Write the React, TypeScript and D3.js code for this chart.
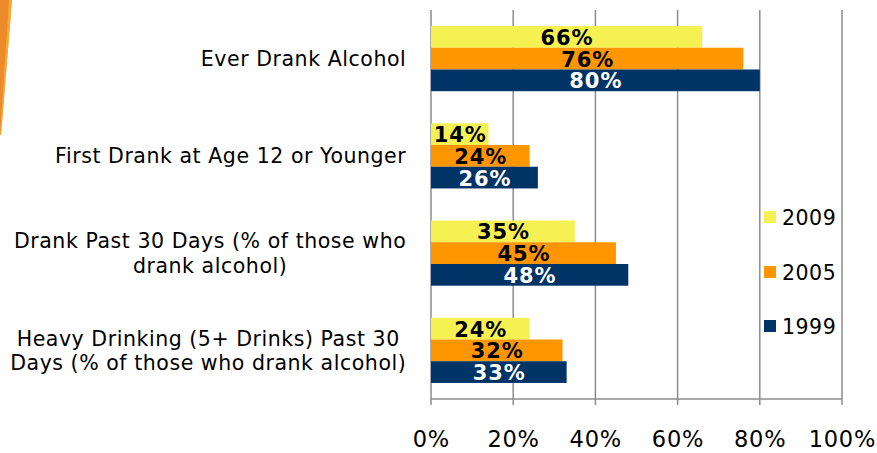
import React, { useEffect, useRef } from "react";
import * as d3 from "d3";

const categories = [
  "Ever Drank Alcohol",
  "First Drank at Age 12 or Younger",
  "Drank Past 30 Days (% of those who\ndrank alcohol)",
  "Heavy Drinking (5+ Drinks) Past 30\nDays (% of those who drank alcohol)",
];
const seriesNames = ["2009", "2005", "1999"];
const values2009 = [66, 14, 35, 24];
const values2005 = [76, 24, 45, 32];
const values1999 = [80, 26, 48, 33];
const xTicks = [0, 20, 40, 60, 80, 100];

const W = 877;
const H = 453;
const COLORS: Record<string, string> = { "2009": "#F6F152", "2005": "#FF9600", "1999": "#003366" };
const LABEL_COLORS: Record<string, string> = { "2009": "#000", "2005": "#000", "1999": "#fff" };
const FONT = "'DejaVu Sans', Verdana, sans-serif";

export default function App() {
  const ref = useRef<SVGSVGElement>(null);

  useEffect(() => {
    document.body.style.margin = "0";
    const svg = d3.select(ref.current);
    svg.selectAll("*").remove();

    const seriesValues: Record<string, number[]> = {
      "2009": values2009,
      "2005": values2005,
      "1999": values1999,
    };

    const plotLeft = 431, plotRight = 842, plotTop = 10, plotBottom = 399;
    const x = d3.scaleLinear().domain([0, 100]).range([plotLeft, plotRight]);
    const y0 = d3.scaleBand<number>()
      .domain(d3.range(categories.length))
      .range([plotTop, plotBottom])
      .paddingInner(0.33)
      .paddingOuter(0.165);
    const y1 = d3.scaleBand<string>().domain(seriesNames).range([0, y0.bandwidth()]).padding(0);

    // decorative orange wedge
    svg.append("path").attr("d", "M0,0 L12,0 L1,135 L0,135 Z").attr("fill", "#EC8A2C");
    svg.append("path").attr("d", "M9,0 L12,0 L1,135 L0,135 Z").attr("fill", "#F6B33A").attr("opacity", 0.8);

    // gridlines
    svg.append("g").selectAll("line").data(xTicks).join("line")
      .attr("x1", (d) => x(d)).attr("x2", (d) => x(d))
      .attr("y1", plotTop).attr("y2", plotBottom + 6)
      .attr("stroke", "#8C8C8C").attr("stroke-width", 1.5);
    svg.append("line")
      .attr("x1", plotLeft).attr("x2", plotRight)
      .attr("y1", plotBottom).attr("y2", plotBottom)
      .attr("stroke", "#8C8C8C").attr("stroke-width", 1.5);

    // tick labels
    const tickLs = 0.8;
    svg.append("g").selectAll("text").data(xTicks).join("text")
      .attr("x", (d) => x(d) + tickLs / 2).attr("y", 447)
      .attr("text-anchor", "middle")
      .attr("letter-spacing", tickLs)
      .attr("font-family", FONT).attr("font-size", 22.5).attr("fill", "#000")
      .text((d) => `${d}%`);

    // bars
    const barLs = 0.9;
    const groups = svg.append("g").selectAll("g").data(categories.map((_, i) => i)).join("g")
      .attr("transform", (i) => `translate(0,${y0(i)})`);
    groups.each(function (i) {
      const g = d3.select(this);
      seriesNames.forEach((s) => {
        const v = seriesValues[s][i];
        g.append("rect")
          .attr("x", x(0)).attr("y", y1(s)!)
          .attr("width", x(v) - x(0)).attr("height", y1.bandwidth())
          .attr("fill", COLORS[s]);
        g.append("text")
          .attr("x", (x(0) + x(v)) / 2 + barLs / 2)
          .attr("y", y1(s)! + y1.bandwidth() / 2 + 8)
          .attr("text-anchor", "middle")
          .attr("letter-spacing", barLs)
          .attr("font-family", FONT).attr("font-weight", "bold").attr("font-size", 21)
          .attr("fill", LABEL_COLORS[s])
          .text(`${v}%`);
      });
    });

    // category labels
    const rightEdge = 406;
    const lineH = 24.5;
    const catLs = 0.55;
    categories.forEach((c, i) => {
      const lines = c.split("\n");
      const cy = y0(i)! + y0.bandwidth() / 2;
      const texts = lines.map((ln, j) =>
        svg.append("text")
          .attr("y", cy + 7.5 + (j - (lines.length - 1) / 2) * lineH)
          .attr("font-family", FONT).attr("font-size", 20.5).attr("fill", "#000")
          .attr("letter-spacing", catLs)
          .text(ln)
      );
      const widths = texts.map((t) => (t.node() as SVGTextElement).getComputedTextLength());
      const maxW = Math.max(...widths);
      texts.forEach((t) => t.attr("text-anchor", "middle").attr("x", rightEdge - maxW / 2 + catLs / 2));
    });

    // legend
    const legendY = [217, 272, 326];
    seriesNames.forEach((s, i) => {
      svg.append("rect")
        .attr("x", 764).attr("y", legendY[i] - 6)
        .attr("width", 12).attr("height", 12)
        .attr("fill", COLORS[s]);
      svg.append("text")
        .attr("x", 782).attr("y", legendY[i] + 7.5)
        .attr("font-family", FONT).attr("font-size", 20.5).attr("fill", "#000")
        .attr("letter-spacing", 0.5)
        .text(s);
    });
  }, []);

  return (
    <svg
      ref={ref}
      width={W}
      height={H}
      style={{ position: "absolute", left: 0, top: 0, background: "#fff" }}
    />
  );
}
